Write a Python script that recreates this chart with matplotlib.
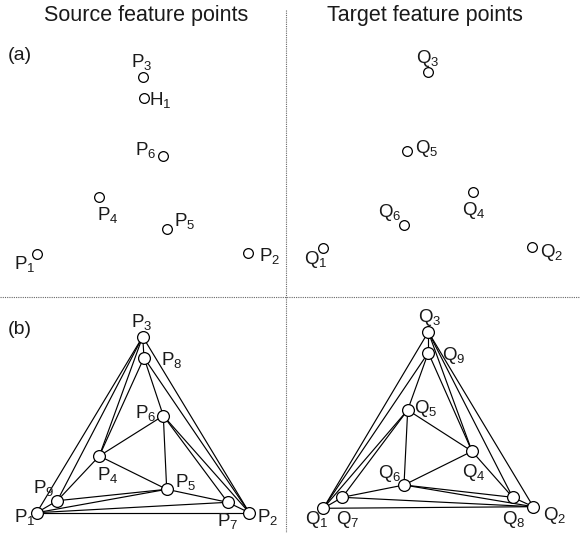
import matplotlib.pyplot as plt

plt.rcParams["font.family"] = "Liberation Sans"
plt.rcParams["mathtext.fontset"] = "custom"
plt.rcParams["mathtext.rm"] = "Liberation Sans"
plt.rcParams["mathtext.it"] = "Liberation Sans:italic"

# ── Feature points, panel (a) ──
src_names = ["P1", "P2", "P3", "P4", "P5", "P6", "H1"]
src_x = [36.7, 248.3, 142.7, 98.7, 166.7, 163.3, 144.0]
src_y = [254.0, 253.3, 76.7, 196.7, 229.3, 155.7, 98.0]

tgt_names = ["Q1", "Q2", "Q3", "Q4", "Q5", "Q6"]
tgt_x = [323.3, 532.3, 428.3, 472.7, 407.3, 404.0]
tgt_y = [248.3, 247.3, 72.3, 191.7, 150.7, 225.3]

# ── Triangulated points, panel (b) ──
srcb_names = ["P1", "P2", "P3", "P4", "P5", "P6", "P7", "P8", "P9"]
srcb_x = [36.7, 249.3, 142.7, 99.3, 166.7, 163.3, 227.7, 144.0, 57.3]
srcb_y = [512.7, 512.7, 336.7, 456.0, 489.3, 415.7, 502.3, 357.7, 500.7]

tgtb_names = ["Q1", "Q2", "Q3", "Q4", "Q5", "Q6", "Q7", "Q8", "Q9"]
tgtb_x = [323.3, 533.3, 428.3, 472.0, 407.7, 404.0, 342.3, 512.7, 428.3]
tgtb_y = [508.3, 506.7, 332.0, 451.3, 410.0, 485.0, 497.3, 497.3, 352.7]

src_edges = [("P1", "P3"), ("P3", "P9"), ("P1", "P9"), ("P3", "P4"), ("P9", "P4"),
             ("P3", "P8"), ("P4", "P8"), ("P8", "P6"), ("P4", "P6"), ("P8", "P2"),
             ("P6", "P2"), ("P3", "P2"), ("P6", "P5"), ("P4", "P5"), ("P5", "P7"),
             ("P6", "P7"), ("P7", "P2"), ("P9", "P5"), ("P1", "P5"), ("P1", "P7"),
             ("P1", "P2")]
tgt_edges = [("Q1", "Q3"), ("Q3", "Q9"), ("Q1", "Q9"), ("Q9", "Q5"), ("Q1", "Q5"),
             ("Q5", "Q7"), ("Q1", "Q7"), ("Q7", "Q6"), ("Q5", "Q6"), ("Q9", "Q4"),
             ("Q5", "Q4"), ("Q3", "Q4"), ("Q4", "Q8"), ("Q3", "Q8"), ("Q3", "Q2"),
             ("Q8", "Q2"), ("Q4", "Q6"), ("Q6", "Q8"), ("Q6", "Q2"), ("Q7", "Q2"),
             ("Q1", "Q2")]

# label anchors (left, baseline) in pixels
lab_a = {"P1": (14, 269), "P2": (259, 261), "P3": (131, 67), "P4": (97, 220),
         "P5": (174, 226), "P6": (135, 155), "H1": (149, 105),
         "Q1": (304, 264), "Q2": (540, 257), "Q3": (416, 63), "Q4": (462, 215),
         "Q5": (415, 153), "Q6": (378, 217)}
lab_b = {"P1": (14, 522), "P2": (257, 522), "P3": (131, 327), "P4": (97, 480),
         "P5": (175, 487), "P6": (135, 418), "P7": (217, 526), "P8": (161, 365),
         "P9": (33, 493),
         "Q1": (305, 524), "Q2": (543, 520), "Q3": (418, 322), "Q4": (462, 477),
         "Q5": (414, 413), "Q6": (378, 478), "Q7": (336, 524), "Q8": (502, 524),
         "Q9": (442, 360)}

fig = plt.figure(figsize=(5.8, 5.33), dpi=100)
ax = fig.add_axes([0, 0, 1, 1])
ax.set_xlim(0, 580)
ax.set_ylim(533, 0)
ax.axis("off")


def label(name, pos):
    x, y = pos
    ax.text(x, y, r"$\mathrm{%s}_{%s}$" % (name[0], name[1:]), fontsize=13.5,
            ha="left", va="baseline", color="#1a1a1a", zorder=5)


def draw_points(xs, ys, size):
    ax.plot(xs, ys, "o", ms=size, mfc="white", mec="black", mew=0.9,
            ls="none", zorder=4)


def draw_mesh(names, xs, ys, edges):
    pts = dict(zip(names, zip(xs, ys)))
    for a, b in edges:
        ax.plot([pts[a][0], pts[b][0]], [pts[a][1], pts[b][1]],
                color="black", lw=0.85, zorder=2)


# ── dividers ──
ax.plot([286, 286], [10, 533], color="#666666", lw=0.8, ls=(0, (1, 1)))
ax.plot([0, 580], [297, 297], color="#666666", lw=0.8, ls=(0, (1, 1)))

# ── titles ──
ax.text(146, 15, "Source feature points", fontsize=15.5, ha="center",
        va="center", color="#1a1a1a")
ax.text(425, 15, "Target feature points", fontsize=15.5, ha="center",
        va="center", color="#1a1a1a")
ax.text(8, 55, "(a)", fontsize=14, ha="left", va="center", color="#1a1a1a")
ax.text(8, 330, "(b)", fontsize=14, ha="left", va="center", color="#1a1a1a")

# ── panel (a) ──
draw_points(src_x, src_y, 7.0)
draw_points(tgt_x, tgt_y, 7.0)
for n in src_names + tgt_names:
    label(n, lab_a[n])

# ── panel (b) ──
draw_mesh(srcb_names, srcb_x, srcb_y, src_edges)
draw_mesh(tgtb_names, tgtb_x, tgtb_y, tgt_edges)
draw_points(srcb_x, srcb_y, 8.5)
draw_points(tgtb_x, tgtb_y, 8.5)
for n in srcb_names + tgtb_names:
    label(n, lab_b[n])

fig.savefig("out.png", dpi=100, facecolor="white")
plt.close(fig)
